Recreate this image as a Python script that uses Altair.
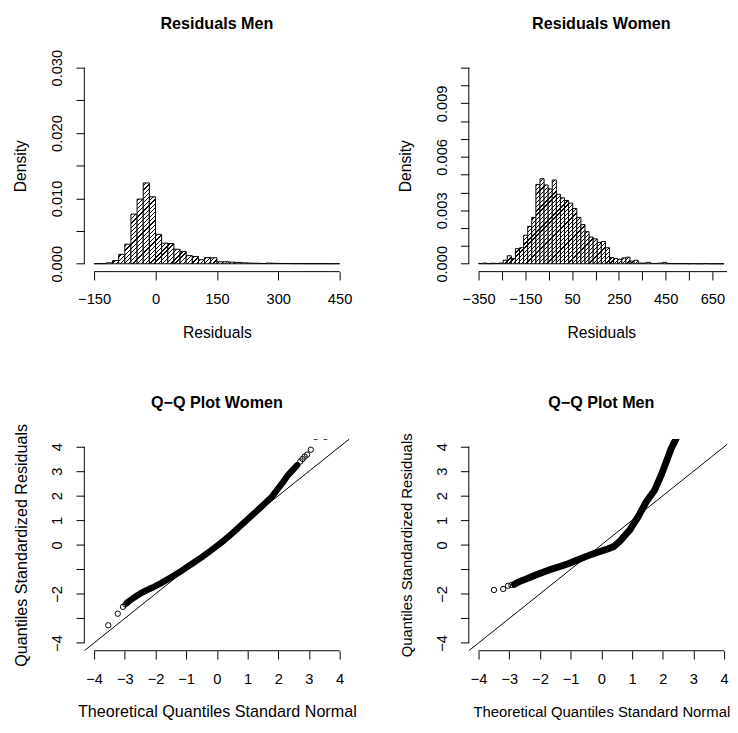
import altair as alt

# ---------------- data ----------------
men_bin_start = [-150, -135, -120, -105, -90, -75, -60, -45, -30, -15,
                 0, 15, 30, 45, 60, 75, 90, 105, 120, 135,
                 150, 165, 180, 195, 210, 225, 240, 255, 270, 285,
                 300, 315, 330, 345, 360, 375, 390, 405, 420, 435]
men_bin_width = 15
men_density = [0.00002, 0.00003, 0.00015, 0.0005, 0.00145, 0.003, 0.0076, 0.0099, 0.01237, 0.01025,
               0.0045, 0.00315, 0.0031, 0.00222, 0.0019, 0.00125, 0.00112, 0.00062, 0.00095, 0.00092,
               0.0003, 0.0003, 0.00025, 0.0002, 0.00015, 0.0001, 0.00008, 0.00005, 0.0001, 0.00008,
               0.00005, 0.00005, 0.00003, 0.00003, 0.00002, 0.00002, 0.00002, 0.00002, 0.00001, 0.00002]

women_bin_start = [-350, -332.5, -315, -297.5, -280, -262.5, -245, -227.5, -210, -192.5,
                   -175, -157.5, -140, -122.5, -105, -87.5, -70, -52.5, -35, -17.5,
                   0, 17.5, 35, 52.5, 70, 87.5, 105, 122.5, 140, 157.5,
                   175, 192.5, 210, 227.5, 245, 262.5, 280, 297.5, 315, 332.5,
                   350, 367.5, 385, 402.5, 420, 437.5, 455, 472.5, 490, 507.5,
                   525, 542.5, 560, 577.5, 595, 612.5, 630, 647.5, 665, 682.5]
women_bin_width = 17.5
women_density = [0.00002, 0.00004, 0.00001, 0.00003, 0.00002, 0.00004, 0.0002, 0.00045, 0.0003, 0.00085,
                 0.0009, 0.0016, 0.0021, 0.0026, 0.00445, 0.00477, 0.00442, 0.0042, 0.0047, 0.0039,
                 0.0037, 0.00355, 0.0034, 0.0031, 0.0026, 0.0022, 0.0018, 0.0015, 0.0014, 0.0012,
                 0.00125, 0.0009, 0.00035, 0.0003, 0.00025, 0.00033, 0.00037, 0.00015, 0.0002, 0.00004,
                 0.00004, 0.00008, 0.00002, 0.00002, 0.00004, 0.00008, 0.00002, 0.00001, 0.00001, 0.00001,
                 0.00001, 0.0, 0.00001, 0.0, 0.0, 0.00001, 0.0, 0.0, 0.0, 0.0]

# Q-Q women: dense band and isolated points
qqw_band_x = [-2.93, -2.72, -2.5, -2.3, -2.09, -1.8, -1.5, -1.2, -1.0, -0.7, -0.5, -0.25, 0.0,
              0.25, 0.5, 0.75, 1.0, 1.25, 1.5, 1.8, 2.0, 2.15, 2.3, 2.45, 2.62]
qqw_band_y = [-2.36, -2.17, -1.99, -1.86, -1.74, -1.55, -1.33, -1.1, -0.93, -0.68, -0.51, -0.28, -0.05,
              0.2, 0.47, 0.75, 1.04, 1.32, 1.61, 1.97, 2.3, 2.55, 2.82, 3.02, 3.25]
qqw_pts_x = [-3.54, -3.23, -3.06, -2.98, -2.93, 2.72, 2.79, 2.86, 2.94, 3.06, 3.22, 3.54]
qqw_pts_y = [-3.28, -2.81, -2.53, -2.43, -2.38, 3.40, 3.50, 3.60, 3.68, 3.88, 4.40, 4.40]

# Q-Q men
qqm_band_x = [-2.83, -2.67, -2.4, -2.14, -1.88, -1.61, -1.35, -1.08, -0.8, -0.55, -0.3, -0.02, 0.2,
              0.41, 0.62, 0.78, 0.94, 1.21, 1.47, 1.74, 1.95, 2.11, 2.27, 2.43, 2.6]
qqm_band_y = [-1.61, -1.50, -1.37, -1.23, -1.11, -0.99, -0.88, -0.77, -0.63, -0.50, -0.38, -0.26, -0.17,
              -0.07, 0.17, 0.40, 0.63, 1.17, 1.77, 2.24, 2.84, 3.37, 3.91, 4.31, 4.9]
qqm_pts_x = [-3.50, -3.20, -3.04, -2.93]
qqm_pts_y = [-1.84, -1.80, -1.67, -1.64]

qq_line_x = [-5, 5]
qq_line_y = [-5, 5]

titles = ["Residuals Men", "Residuals Women", "Q\u2212Q Plot Women", "Q\u2212Q Plot Men"]

# ---------------- style / layout ----------------
FONT = "Liberation Sans, Arial, Helvetica, sans-serif"
W = 271
WR = 264
H = 216.5
TICK = 8.5


def hatch_fill(x0, x1, d, xdom, ydom, wpx, hpx):
    sx = wpx / (xdom[1] - xdom[0])
    sy = hpx / (ydom[1] - ydom[0])
    w = (x1 - x0) * sx
    h = d * sy
    if h < 1.5:
        return "#ffffff"
    gx = (x0 - xdom[0]) * sx
    gy = (ydom[1] - d) * sy
    L = w + h
    k = L / (w * w + h * h)
    P = 4.3
    lw = 1.3
    c = ((-(gx + gy)) % P) - P
    stops = [{"offset": 0, "color": "#ffffff"}]
    while c < L + P:
        s = max(0.0, (c - lw / 2) / L)
        e = min(1.0, (c + lw / 2) / L)
        if e > 0 and s < 1:
            s = round(s, 5)
            e = round(e, 5)
            stops += [{"offset": s, "color": "#ffffff"}, {"offset": s, "color": "#000000"},
                      {"offset": e, "color": "#000000"}, {"offset": e, "color": "#ffffff"}]
        c += P
    stops.append({"offset": 1, "color": "#ffffff"})
    return {"gradient": "linear", "x1": 0, "y1": 0,
            "x2": round(k * w, 6), "y2": round(k * h, 6), "stops": stops}


def x_axis(values, title, label_expr=None, title_size=16):
    kw = dict(values=values, domain=False, grid=False, ticks=True, tickSize=TICK,
              tickColor="black", tickWidth=1, labelPadding=19.5, labelBaseline="middle",
              labelAlign="center", labelFont=FONT, labelFontSize=15, labelColor="black",
              labelFlush=False, labelOverlap=False, title=title, titleFont=FONT,
              titleFontSize=title_size, titleFontWeight="normal", titleColor="black",
              titleX=W / 2, titleY=62, titleAlign="center", titleBaseline="middle")
    if label_expr:
        kw["labelExpr"] = label_expr
    return alt.Axis(**kw)


def y_axis(values, title, label_expr=None, title_size=16, title_x=-65):
    kw = dict(values=values, domain=False, grid=False, ticks=True, tickSize=TICK,
              tickColor="black", tickWidth=1, labelPadding=19.5, labelAngle=270,
              labelAlign="center", labelBaseline="middle", labelFont=FONT, labelFontSize=15,
              labelColor="black", labelFlush=False, labelOverlap=False, title=title,
              titleFont=FONT, titleFontSize=title_size, titleFontWeight="normal",
              titleColor="black", titleAngle=270, titleX=title_x, titleY=H / 2,
              titleAlign="center", titleBaseline="middle")
    if label_expr:
        kw["labelExpr"] = label_expr
    return alt.Axis(**kw)


def title_layer(text):
    return alt.Chart(alt.Data(values=[{"t": text}])).mark_text(
        font=FONT, fontSize=16.5, fontWeight="bold", color="black",
        align="center", baseline="middle").encode(
        x=alt.value(W / 2), y=alt.value(-37), text="t:N")


def axis_rules(xs, ys, xax, yax, xa, xb, ya, yb, hpx):
    xr = alt.Chart(alt.Data(values=[{"a": xa, "b": xb}])).mark_rule(
        color="black", strokeWidth=1).encode(
        x=alt.X("a:Q", scale=xs, axis=xax), x2="b:Q", y=alt.value(hpx))
    yr = alt.Chart(alt.Data(values=[{"c": ya, "e": yb}])).mark_rule(
        color="black", strokeWidth=1).encode(
        y=alt.Y("c:Q", scale=ys, axis=yax), y2="e:Q", x=alt.value(0))
    return xr, yr


def hist_panel(starts, bw, dens, xdom, ydom, wpx, title, xvals, xexpr, xa, xb,
               yvals, yexpr, ytop):
    rows = []
    for s, d in zip(starts, dens):
        rows.append({"x0": s, "x1": s + bw, "d": d,
                     "grad": hatch_fill(s, s + bw, d, xdom, ydom, wpx, H)})
    xs = alt.Scale(domain=xdom, nice=False, zero=False)
    ys = alt.Scale(domain=ydom, nice=False, zero=False)
    xax = x_axis(xvals, "Residuals", xexpr)
    yax = y_axis(yvals, "Density", yexpr)
    bars = alt.Chart(alt.Data(values=rows)).mark_rect(
        stroke="black", strokeWidth=1, clip=True).encode(
        x=alt.X("x0:Q", scale=xs, axis=xax),
        x2="x1:Q",
        y=alt.Y("d:Q", scale=ys, axis=yax),
        y2=alt.datum(0),
        fill=alt.Fill("grad:N", scale=None),
    )
    xr, yr = axis_rules(xs, ys, xax, yax, xa, xb, 0, ytop, H)
    return alt.layer(bars, xr, yr, title_layer(title)).properties(width=wpx, height=H)


def qq_panel(bx, by, px, py, xdom, wpx, title, lab_size, band_w, title_x):
    xs = alt.Scale(domain=xdom, nice=False, zero=False)
    ys = alt.Scale(domain=[-4.32, 4.32], nice=False, zero=False)
    ticks = [-4, -3, -2, -1, 0, 1, 2, 3, 4]
    xax = x_axis(ticks, "Theoretical Quantiles Standard Normal", None, lab_size)
    yax = y_axis(ticks, "Quantiles Standardized Residuals",
                 "datum.value == -3 || datum.value == -1 ? '' : datum.label",
                 lab_size, title_x)
    band = alt.Chart(alt.Data(values=[{"x": a, "y": b, "i": i}
                                      for i, (a, b) in enumerate(zip(bx, by))])).mark_line(
        color="black", strokeWidth=band_w, strokeCap="round", strokeJoin="round",
        clip=True).encode(
        x=alt.X("x:Q", scale=xs, axis=xax),
        y=alt.Y("y:Q", scale=ys, axis=yax),
        order="i:Q",
    )
    pts = alt.Chart(alt.Data(values=[{"x": a, "y": b} for a, b in zip(px, py)])).mark_point(
        shape="circle", filled=False, color="black", strokeWidth=1, size=30, opacity=1,
        clip=True).encode(
        x=alt.X("x:Q", scale=xs, axis=xax), y=alt.Y("y:Q", scale=ys, axis=yax))
    ref = alt.Chart(alt.Data(values=[{"x": a, "y": b} for a, b in zip(qq_line_x, qq_line_y)])).mark_line(
        color="black", strokeWidth=1, clip=True).encode(
        x=alt.X("x:Q", scale=xs, axis=xax), y=alt.Y("y:Q", scale=ys, axis=yax))
    xr, yr = axis_rules(xs, ys, xax, yax, -4, 4, -4, 4, H)
    return alt.layer(ref, band, pts, xr, yr, title_layer(title)).properties(
        width=wpx, height=H)


men_xdom = [-174, 474]
men_ydom = [-0.0012, 0.0312]
women_xdom = [-392, -392 + WR * 1134 / W]
women_ydom = [-0.00044, 0.01144]

p1 = hist_panel(men_bin_start, men_bin_width, men_density, men_xdom, men_ydom, W,
                titles[0], [-150, 0, 150, 300, 450], None, -150, 450,
                [0, 0.005, 0.01, 0.015, 0.02, 0.025, 0.03],
                "abs(datum.value*100 - round(datum.value*100)) < 0.001 ? format(datum.value, '.3f') : ''",
                0.03)
p2 = hist_panel(women_bin_start, women_bin_width, women_density, women_xdom, women_ydom, WR,
                titles[1],
                [-350, -250, -150, -50, 50, 150, 250, 350, 450, 550, 650],
                "indexof([-350, -150, 50, 250, 450, 650], datum.value) >= 0 ? datum.label : ''",
                -350, women_xdom[1],
                [0, 0.001, 0.002, 0.003, 0.004, 0.005, 0.006, 0.007, 0.008, 0.009, 0.01, 0.011],
                "abs(datum.value*1000/3 - round(datum.value*1000/3)) < 0.01 ? format(datum.value, '.3f') : ''",
                0.011)
p3 = qq_panel(qqw_band_x, qqw_band_y, qqw_pts_x, qqw_pts_y, [-4.32, 4.32], W,
              titles[2], 16.5, 6.5, -64.5)
p4 = qq_panel(qqm_band_x, qqm_band_y, qqm_pts_x, qqm_pts_y, [-4.32, -4.32 + WR * 8.64 / W], WR,
              titles[3], 15.2, 7.0, -63.5)

chart = alt.concat(p1, p2, p3, p4, columns=2, bounds="flush",
                   spacing={"row": 170.5, "column": 122}).properties(
    padding={"left": 5, "top": 0, "right": 0, "bottom": 0},
    background="white",
).configure_view(stroke=None)

chart.save("out.html", embed_options={"renderer": "svg", "actions": False})
